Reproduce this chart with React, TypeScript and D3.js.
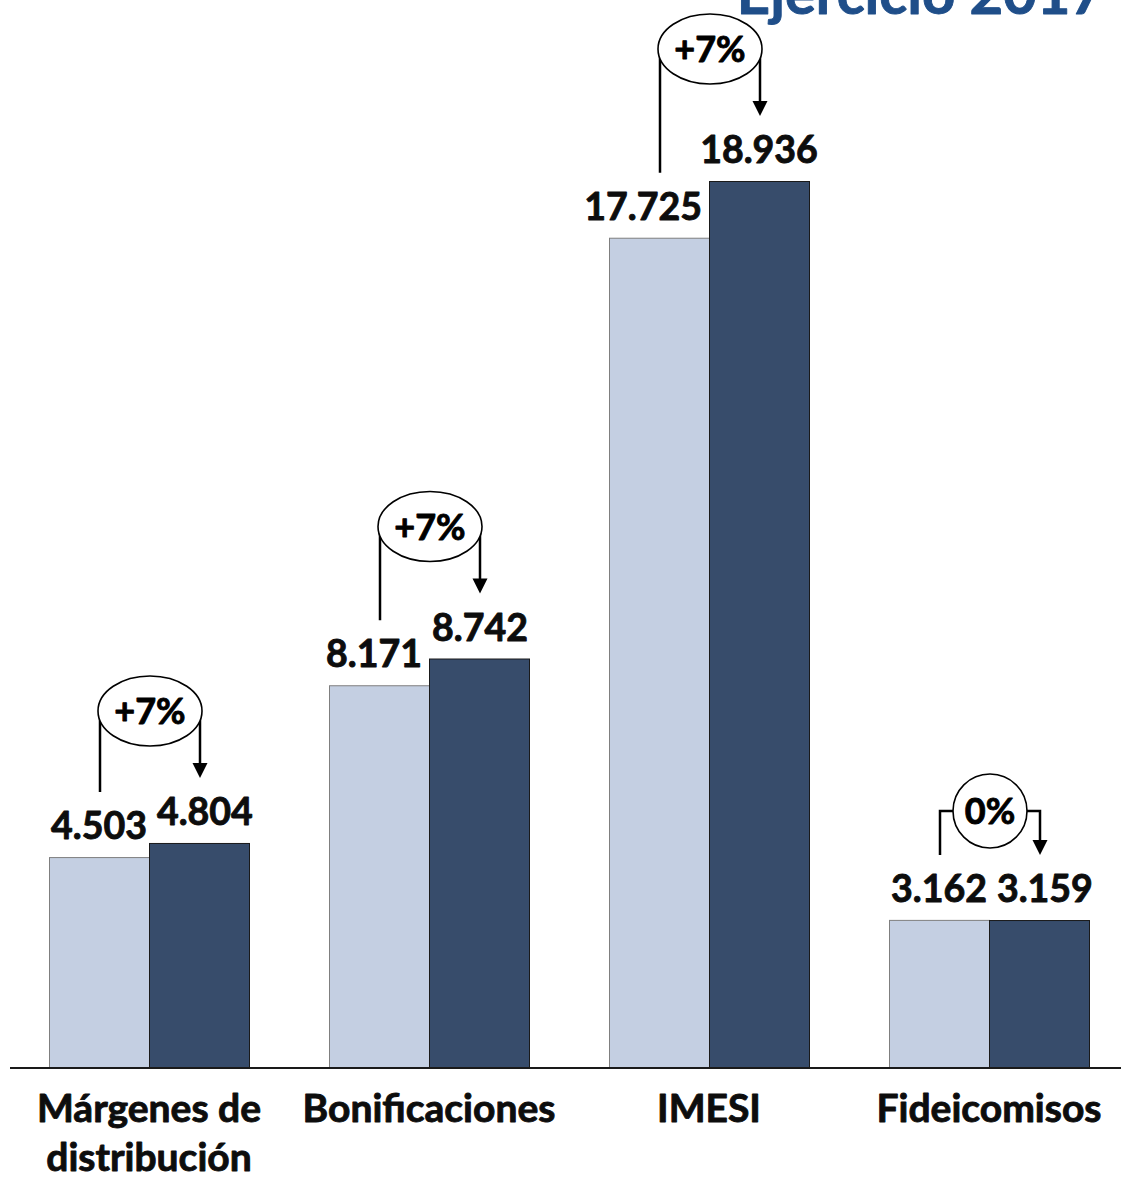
import { useEffect, useRef } from 'react';
import * as d3 from 'd3';

// values in miles, as printed on the bars
const categories = ['Márgenes de\ndistribución', 'Bonificaciones', 'IMESI', 'Fideicomisos'];
const prevValues = [4503, 8171, 17725, 3162];
const currValues = [4804, 8742, 18936, 3159];
const title = 'Ejercicio 2017';

const WIDTH = 1121;
const HEIGHT = 1178;
const FONT = 'Lato, "Open Sans", sans-serif';
const INK = '#0d0d0d';

const esUY = d3.formatLocale({ decimal: ',', thousands: '.', grouping: [3], currency: ['$', ''] });
const fmt = esUY.format(',d');

export default function App() {
  const svgRef = useRef<SVGSVGElement>(null);

  useEffect(() => {
    document.body.style.margin = '0';
    if (!svgRef.current) return;

    const svg = d3.select(svgRef.current);
    svg.selectAll('*').remove();
    svg.attr('width', WIDTH).attr('height', HEIGHT);

    const baseY = 1068;

    const x0 = d3.scaleBand<string>()
      .domain(categories)
      .range([9, 1129])
      .paddingInner(2 / 7)
      .paddingOuter(1 / 7);

    const x1 = d3.scaleBand<string>()
      .domain(['prev', 'curr'])
      .range([0, x0.bandwidth()]);

    const y = d3.scaleLinear()
      .domain([0, 22800])
      .range([baseY, 0]);

    // bold text, slightly heavier to get closer to the slide's font
    const boldText = (sel: any, size: number, color = INK) => sel
      .attr('font-family', FONT)
      .attr('font-weight', 700)
      .attr('font-size', `${size}px`)
      .attr('fill', color)
      .attr('stroke', color)
      .attr('stroke-width', 0.9)
      .attr('stroke-linejoin', 'round');

    // Title (cut off at the top, as in the slide)
    boldText(svg.append('text'), 58, '#1f4e89')
      .attr('x', 1104)
      .attr('y', 14)
      .attr('text-anchor', 'end')
      .text(title);

    const g = svg.append('g');

    categories.forEach((cat, i) => {
      const pv = prevValues[i];
      const cv = currValues[i];
      const lx = x0(cat)! + x1('prev')!;
      const dx = x0(cat)! + x1('curr')!;
      const bw = x1.bandwidth();
      const lTop = y(pv);
      const dTop = y(cv);

      // Bars
      g.append('rect')
        .attr('x', lx + 0.5).attr('y', lTop + 0.5)
        .attr('width', bw).attr('height', baseY - lTop)
        .attr('fill', '#c4cfe2')
        .attr('stroke', '#7f7f7f')
        .attr('stroke-width', 1);
      g.append('rect')
        .attr('x', dx + 0.5).attr('y', dTop + 0.5)
        .attr('width', bw).attr('height', baseY - dTop)
        .attr('fill', '#374c6b')
        .attr('stroke', '#1a1a1a')
        .attr('stroke-width', 1);

      // Value labels
      const lCenter = lx + bw / 2;
      const dCenter = dx + bw / 2;

      const lText = boldText(g.append('text'), 37.5)
        .attr('y', lTop - 18)
        .text(fmt(pv));
      const lw = (lText.node() as SVGTextElement).getComputedTextLength();
      let lStart = lCenter - lw / 2;
      // the taller bar beside it would cover the label: pull it left
      if (dTop < lTop - 18) lStart = Math.min(lStart, lx + bw - 7 - lw);
      lText.attr('x', lStart);

      const dText = boldText(g.append('text'), 37.5)
        .attr('y', dTop - 18)
        .text(fmt(cv));
      const dw = (dText.node() as SVGTextElement).getComputedTextLength();
      let dStart = dCenter - dw / 2;
      if (Math.abs(lTop - dTop) < 32) dStart = Math.max(dStart, lStart + lw + 10);
      dText.attr('x', dStart);

      // Change annotation
      const pct = Math.round((cv / pv - 1) * 100);
      const pctLabel = pct > 0 ? `+${pct}%` : `${Math.abs(pct)}%`;
      const ax = lCenter + 1;
      const bx = dCenter + 1;
      const cx = (ax + bx) / 2;
      const tip = dTop - 65;
      const lineBottom = lTop - 65;

      const pText = boldText(g.append('text'), 36).text(pctLabel);
      const pw = (pText.node() as SVGTextElement).getComputedTextLength();
      pText.remove();

      const small = pw < 58;
      const rx = small ? 37 : 52;
      const ry = small ? 37 : 35;
      const cy = small ? dTop - 109 : dTop - 132;

      const line = d3.path();
      line.moveTo(ax, lineBottom);
      line.lineTo(ax, cy);
      if (small) line.lineTo(cx - rx, cy);
      if (small) {
        line.moveTo(cx + rx, cy);
        line.lineTo(bx, cy);
      } else {
        line.moveTo(bx, cy);
      }
      line.lineTo(bx, tip - 14);

      g.append('path')
        .attr('d', line.toString())
        .attr('fill', 'none')
        .attr('stroke', '#000')
        .attr('stroke-width', 2.5);

      g.append('path')
        .attr('d', `M${bx - 7.5},${tip - 15}L${bx + 7.5},${tip - 15}L${bx},${tip}Z`)
        .attr('fill', '#000');

      g.append('ellipse')
        .attr('cx', cx).attr('cy', cy)
        .attr('rx', rx).attr('ry', ry)
        .attr('fill', '#fff')
        .attr('stroke', '#000')
        .attr('stroke-width', 1.6);

      boldText(g.append('text'), 36, '#000')
        .attr('x', cx)
        .attr('y', cy + 13)
        .attr('text-anchor', 'middle')
        .text(pctLabel);
    });

    // Baseline axis
    const axis = svg.append('g')
      .attr('transform', `translate(0,${baseY})`)
      .call(d3.axisBottom(x0).tickSize(0).tickSizeOuter(0).tickFormat(() => ''));
    axis.select('.domain')
      .attr('stroke', '#1a1a1a')
      .attr('stroke-width', 2)
      .attr('d', `M10,0H${WIDTH}`);

    // Category labels
    categories.forEach((cat) => {
      const cxLabel = x0(cat)! + x0.bandwidth() / 2;
      const t = boldText(svg.append('text'), 39)
        .attr('x', cxLabel)
        .attr('y', 1122)
        .attr('text-anchor', 'middle');
      cat.split('\n').forEach((part, k) => {
        t.append('tspan')
          .attr('x', cxLabel)
          .attr('dy', k === 0 ? 0 : 49)
          .text(part);
      });
    });
  }, []);

  return <svg ref={svgRef} style={{ display: 'block' }} />;
}
